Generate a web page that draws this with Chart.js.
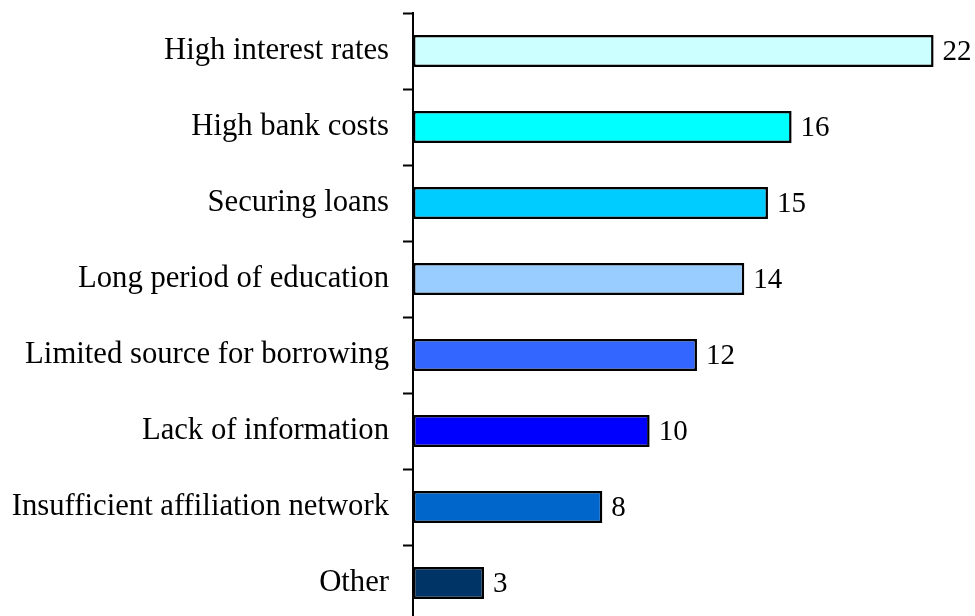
<!DOCTYPE html>
<html>
<head>
<meta charset="utf-8">
<script src="https://cdn.jsdelivr.net/npm/chart.js@4.4.0/dist/chart.umd.min.js"></script>
<style>
  html, body { margin: 0; padding: 0; background: #fff; overflow: hidden; }
  #wrap { position: relative; width: 975px; height: 621px; }
</style>
</head>
<body>
<div id="wrap"><canvas id="chart"></canvas></div>
<script>
// Reasons for not borrowing
const categories = [
    'High interest rates',
    'High bank costs',
    'Securing loans',
    'Long period of education',
    'Limited source for borrowing',
    'Lack of information',
    'Insufficient affiliation network',
    'Other'
];
const values = [22, 16, 15, 14, 12, 10, 8, 3];
const barColors = ['#CCFFFF', '#00FFFF', '#00CCFF', '#99CCFF', '#3366FF', '#0000FF', '#0066CC', '#003366'];

const FONT = 'Liberation Serif, Times New Roman, serif';

// draw value labels at the end of each bar
const valueLabels = {
    id: 'valueLabels',
    afterDatasetsDraw(chart) {
        const ctx = chart.ctx;
        const meta = chart.getDatasetMeta(0);
        ctx.save();
        ctx.font = '29px ' + FONT;
        ctx.fillStyle = '#000';
        ctx.textAlign = 'left';
        ctx.textBaseline = 'middle';
        meta.data.forEach((bar, i) => {
            ctx.fillText(String(values[i]), bar.x + 9, bar.y + 1);
        });
        ctx.restore();
    }
};

new Chart(document.getElementById('chart'), {
    type: 'bar',
    data: {
        labels: categories,
        datasets: [{
            data: values,
            backgroundColor: barColors,
            borderColor: '#000',
            borderWidth: 2.5,
            borderSkipped: false,
            categoryPercentage: 1,
            barPercentage: 0.42
        }]
    },
    options: {
        indexAxis: 'y',
        responsive: true,
        maintainAspectRatio: false,
        animation: false,
        layout: { padding: { top: 13, right: 0, bottom: 0, left: 0 } },
        plugins: {
            legend: { display: false },
            tooltip: { enabled: false }
        },
        scales: {
            x: {
                display: false,
                min: 0,
                max: 23.75
            },
            y: {
                offset: true,
                afterFit: (scale) => {
                    scale.width = 413;
                    scale.paddingTop = 0;
                    scale.paddingBottom = 0;
                },
                border: { display: true, color: '#000', width: 2 },
                grid: {
                    offset: true,
                    drawOnChartArea: false,
                    drawTicks: true,
                    tickLength: 10,
                    tickColor: '#000',
                    tickWidth: 2
                },
                ticks: {
                    color: '#000',
                    padding: 14,
                    font: { family: FONT, size: 30.7 }
                }
            }
        }
    },
    plugins: [valueLabels]
});
</script>
</body>
</html>
